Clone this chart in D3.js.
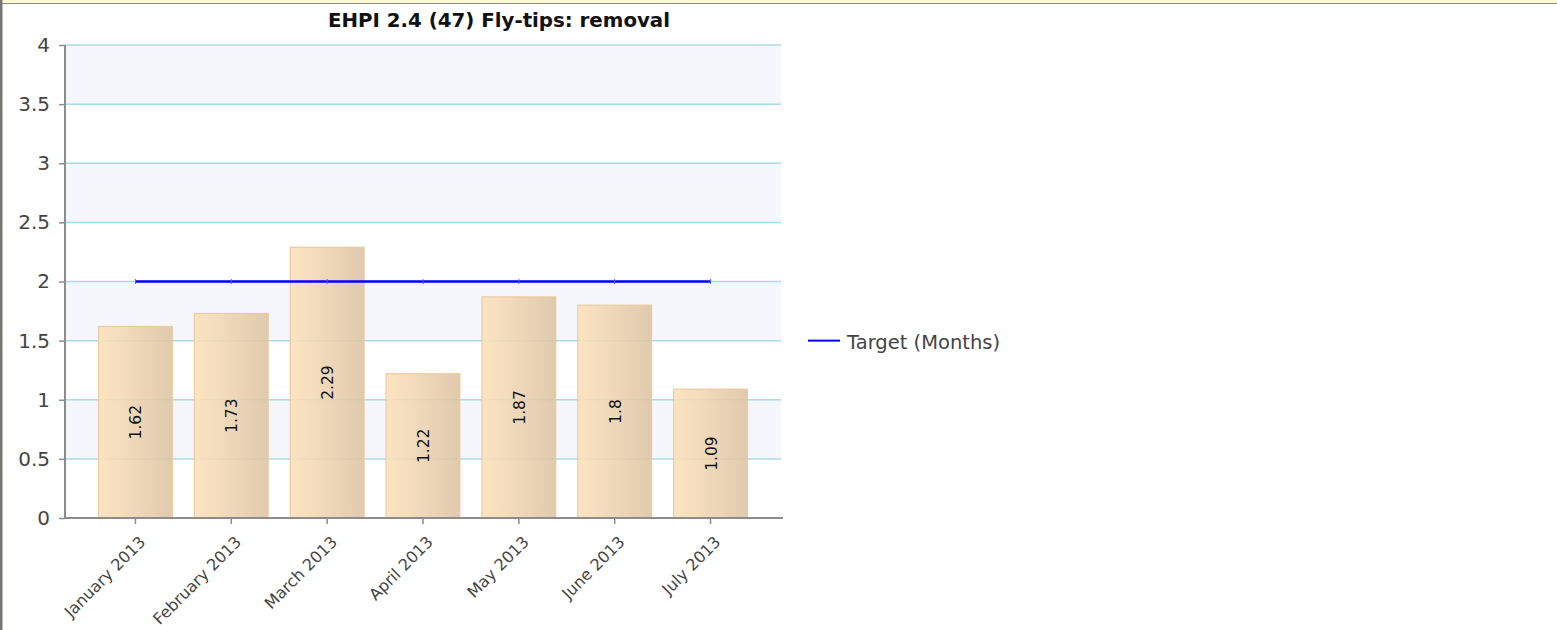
<!DOCTYPE html>
<html>
<head>
<meta charset="utf-8">
<script src="https://cdn.jsdelivr.net/npm/d3@7"></script>
<style>
  body { margin: 0; background: #fff; }
  svg { display: block; }
</style>
</head>
<body>
<div id="chart"></div>
<script>
// chart data
var months = ["January 2013", "February 2013", "March 2013", "April 2013", "May 2013", "June 2013", "July 2013"];
var actual = [1.62, 1.73, 2.29, 1.22, 1.87, 1.8, 1.09];
var target = [2, 2, 2, 2, 2, 2, 2];
var yTicks = [0, 0.5, 1, 1.5, 2, 2.5, 3, 3.5, 4];
var title = "EHPI 2.4 (47) Fly-tips: removal";
var targetName = "Target (Months)";

var W = 1557, H = 630;
var margin = {top: 45, left: 65, right: 776, bottom: 112};
var width = W - margin.left - margin.right,
    height = H - margin.top - margin.bottom;
var font = "'DejaVu Sans', Verdana, sans-serif";

var svg = d3.select("#chart").append("svg")
  .attr("width", W)
  .attr("height", H)
  .style("font-family", font);

// page frame: yellow strip on top, grey border
svg.append("rect").attr("x", 0).attr("y", 0).attr("width", W).attr("height", 3).attr("fill", "#fdf8d6");
svg.append("line").attr("x1", 0).attr("x2", W).attr("y1", 3.5).attr("y2", 3.5).attr("stroke", "#8a8a80");
svg.append("rect").attr("x", 0).attr("y", 0).attr("width", 2.5).attr("height", H).attr("fill", "#77776f");

var defs = svg.append("defs");
var grad = defs.append("linearGradient").attr("id", "barGrad")
  .attr("x1", "0%").attr("x2", "100%").attr("y1", "0%").attr("y2", "0%");
grad.append("stop").attr("offset", "0%").attr("stop-color", "#fde2bc");
grad.append("stop").attr("offset", "100%").attr("stop-color", "#ddc5a5");

var g = svg.append("g").attr("transform", "translate(" + margin.left + "," + margin.top + ")");

var x = d3.scaleBand().domain(months).range([0, width]).paddingInner(0.23).paddingOuter(0.35);
var y = d3.scaleLinear().domain([0, 4]).range([height, 0]);

// alternating bands
var bands = d3.pairs(yTicks).filter(function(d, i) { return i % 2 === 1; });
g.selectAll(".band").data(bands).enter().append("rect")
  .attr("class", "band")
  .attr("x", 0)
  .attr("width", width)
  .attr("y", function(d) { return y(d[1]); })
  .attr("height", function(d) { return y(d[0]) - y(d[1]); })
  .attr("fill", "#f5f7fd");

// grid lines
g.selectAll(".grid").data(yTicks.slice(1)).enter().append("line")
  .attr("class", "grid")
  .attr("x1", 0).attr("x2", width)
  .attr("y1", function(d) { return y(d); })
  .attr("y2", function(d) { return y(d); })
  .attr("stroke", "#a9dbe3")
  .attr("stroke-width", 1.5);

// bars
g.selectAll(".bar").data(actual).enter().append("rect")
  .attr("class", "bar")
  .attr("x", function(d, i) { return x(months[i]); })
  .attr("width", x.bandwidth())
  .attr("y", function(d) { return y(d); })
  .attr("height", function(d) { return y(0) - y(d); })
  .attr("fill", "url(#barGrad)")
  .attr("fill-opacity", 0.9)
  .attr("stroke", "#eccb9f")
  .attr("stroke-width", 1.2);

// value labels
g.selectAll(".val").data(actual).enter().append("text")
  .attr("class", "val")
  .attr("transform", function(d, i) {
    var cx = x(months[i]) + x.bandwidth() / 2;
    var cy = (y(d) + y(0)) / 2;
    return "translate(" + (cx + 6) + "," + cy + ") rotate(-90)";
  })
  .attr("text-anchor", "middle")
  .style("font-size", "15.5px")
  .attr("fill", "#111")
  .text(function(d) { return d; });

// target line
var line = d3.line()
  .x(function(d, i) { return x(months[i]) + x.bandwidth() / 2; })
  .y(function(d) { return y(d); });
g.append("path").datum(target)
  .attr("d", line)
  .attr("fill", "none")
  .attr("stroke", "#0000ff")
  .attr("stroke-width", 2.5);
g.selectAll(".tmark").data(target).enter().append("line")
  .attr("class", "tmark")
  .attr("x1", function(d, i) { return x(months[i]) + x.bandwidth() / 2; })
  .attr("x2", function(d, i) { return x(months[i]) + x.bandwidth() / 2; })
  .attr("y1", function(d) { return y(d) - 2.5; })
  .attr("y2", function(d) { return y(d) + 2.5; })
  .attr("stroke", "#5060ff")
  .attr("stroke-width", 1);

// axes
var yAxis = g.append("g")
  .call(d3.axisLeft(y).tickValues(yTicks).tickSize(6).tickPadding(9).tickFormat(d3.format("")));
var xAxis = g.append("g")
  .attr("transform", "translate(0," + height + ")")
  .call(d3.axisBottom(x).tickSize(6).tickSizeOuter(0));

[yAxis, xAxis].forEach(function(a) {
  a.attr("font-family", font);
  a.select(".domain").attr("stroke", "#8c8c8c").attr("stroke-width", 2);
  a.selectAll(".tick line").attr("stroke", "#8c8c8c").attr("stroke-width", 1.5);
  a.selectAll("text").attr("fill", "#444");
});
yAxis.select(".domain").attr("d", "M0," + (height + 1) + "V0");
xAxis.select(".domain").attr("d", "M0,0H" + (width + 2));
yAxis.selectAll("text").style("font-size", "20px");
xAxis.selectAll("text")
  .style("font-size", "16px")
  .attr("text-anchor", "end")
  .attr("x", 0)
  .attr("y", 0)
  .attr("dx", "0")
  .attr("dy", "0")
  .attr("transform", "translate(11,25) rotate(-45)");

// title
svg.append("text")
  .attr("x", 499)
  .attr("y", 27)
  .attr("text-anchor", "middle")
  .style("font-size", "19.8px")
  .style("font-weight", "bold")
  .attr("fill", "#111")
  .text(title);

// legend
var legend = svg.append("g").attr("transform", "translate(808," + (margin.top + y(1.5)) + ")");
legend.append("line").attr("x1", 0).attr("x2", 32).attr("y1", 0).attr("y2", 0)
  .attr("stroke", "#0000ff").attr("stroke-width", 2);
legend.append("text").attr("x", 39).attr("y", 8)
  .style("font-size", "19.5px").attr("fill", "#444")
  .text(targetName);
</script>
</body>
</html>
